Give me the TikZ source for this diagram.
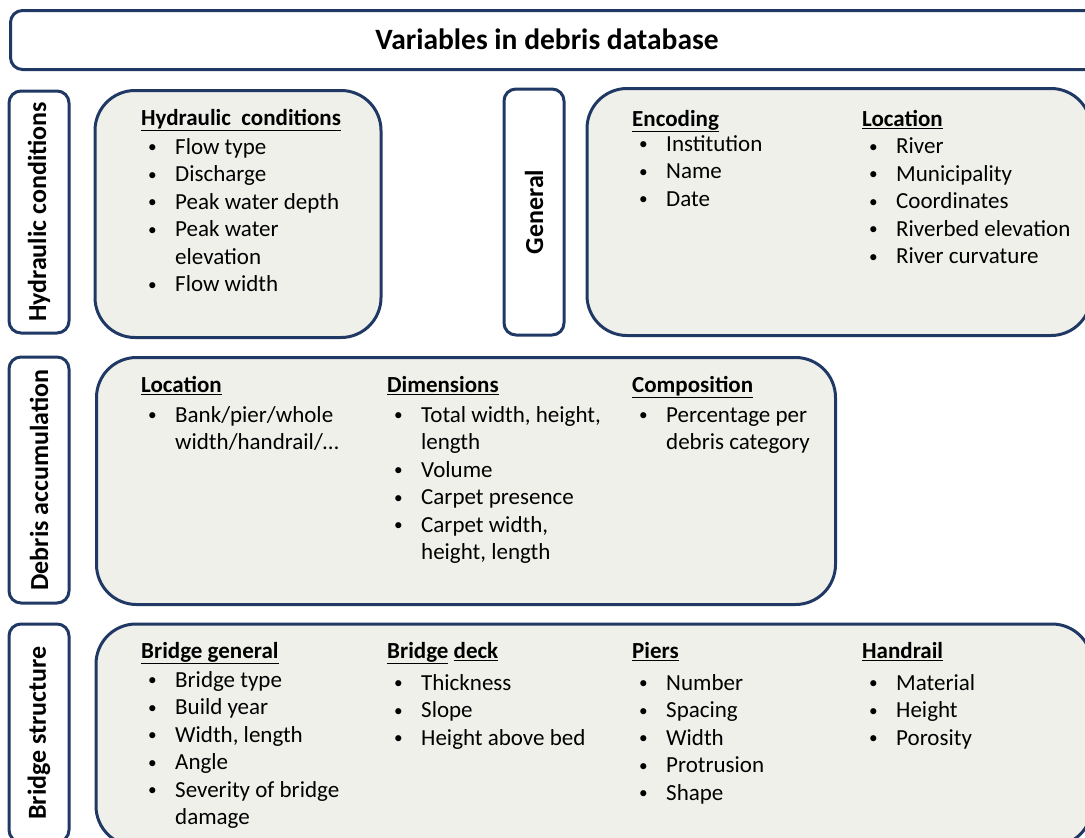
\documentclass[tikz,border=0pt]{standalone}
\usepackage{fontspec}
\setmainfont{Carlito}
\usetikzlibrary{positioning}

\definecolor{boxline}{HTML}{1F3864}
\definecolor{boxfill}{HTML}{F0F0EB}

\newcommand{\head}[1]{\underline{\textbf{#1}}}
\newcommand{\itm}[1]{\makebox[34pt][l]{\hspace{7pt}\raisebox{1.8pt}{\scalebox{0.75}{\textbullet}}}#1}
\newcommand{\cont}[1]{\hspace*{34pt}#1}

\begin{document}
\begin{tikzpicture}[x=1pt, y=-1pt,
    lblbox/.style={draw=boxline, line width=3pt, fill=white, rounded corners=12pt, inner sep=0pt,
        font=\fontsize{26}{30}\selectfont\bfseries},
    catbox/.style={draw=boxline, line width=3pt, fill=boxfill, rounded corners=40pt, inner sep=0pt},
    listtxt/.style={anchor=north west, align=left, inner sep=0pt, font=\fontsize{23}{27.5}\selectfont}
]
    \clip (0,0) rectangle (1085,838);

    % title bar
    \node[lblbox, minimum width=1100, minimum height=59, anchor=north west] (title) at (9,9) {};
    \node[font=\fontsize{29.5}{34}\selectfont\bfseries] (titletxt) at (547,39) {Variables in debris database};

    % category labels
    \node[lblbox, minimum width=60, minimum height=242] (hydlbl) at (39,212) {\rotatebox{90}{Hydraulic conditions}};
    \node[lblbox, minimum width=60, minimum height=246] (deblbl) at (39,480) {\rotatebox{90}{Debris accumulation}};
    \node[lblbox, minimum width=60, minimum height=218] (brlbl) at (39,733) {\rotatebox{90}{Bridge structure}};
    \node[lblbox, minimum width=60, minimum height=246] (genlbl) at (534,212) {\rotatebox{90}{General}};

    % category contents
    \node[catbox, minimum width=286, minimum height=247] (hydbox) at (238,214) {};
    \node[catbox, minimum width=504, minimum height=247] (genbox) at (839,212) {};
    \node[catbox, minimum width=739, minimum height=247] (debbox) at (466,481) {};
    \node[catbox, minimum width=996, minimum height=222] (brbox) at (594,735) {};

    % hydraulic conditions
    \node[listtxt] (hydlist) at (141,109) {\head{Hydraulic\ \ conditions}\\[1.5pt]
        \itm{Flow type}\\ \itm{Discharge}\\ \itm{Peak water depth}\\ \itm{Peak water}\\
        \cont{elevation}\\ \itm{Flow width}};

    % general
    \node[listtxt] (enclist) at (632,110) {\head{Encoding}\\[-2.5pt]
        \itm{Institution}\\ \itm{Name}\\ \itm{Date}};
    \node[listtxt] (loclist) at (862,110) {\head{Location}\\[0pt]
        \itm{River}\\ \itm{Municipality}\\ \itm{Coordinates}\\ \itm{Riverbed elevation}\\
        \itm{River curvature}};

    % debris accumulation
    \node[listtxt] (dloclist) at (141,376) {\head{Location}\\[2.5pt]
        \itm{Bank/pier/whole}\\ \cont{width/handrail/\dots}};
    \node[listtxt] (dimlist) at (387,376) {\head{Dimensions}\\[2.5pt]
        \itm{Total width, height,}\\ \cont{length}\\ \itm{Volume}\\ \itm{Carpet presence}\\
        \itm{Carpet width,}\\ \cont{height, length}};
    \node[listtxt] (complist) at (632,376) {\head{Composition}\\[2.5pt]
        \itm{Percentage per}\\ \cont{debris category}};

    % bridge structure
    \node[listtxt] (bgenlist) at (141,642) {\head{Bridge general}\\[1.5pt]
        \itm{Bridge type}\\ \itm{Build year}\\ \itm{Width, length}\\ \itm{Angle}\\
        \itm{Severity of bridge}\\ \cont{damage}};
    \node[listtxt] (decklist) at (387,642) {\head{Bridge}\ \head{deck}\\[4.5pt]
        \itm{Thickness}\\ \itm{Slope}\\ \itm{Height\ above bed}};
    \node[listtxt] (pierlist) at (632,642) {\head{Piers}\\[4.5pt]
        \itm{Number}\\ \itm{Spacing}\\ \itm{Width}\\ \itm{Protrusion}\\ \itm{Shape}};
    \node[listtxt] (raillist) at (862,642) {\head{Handrail}\\[4.5pt]
        \itm{Material}\\ \itm{Height}\\ \itm{Porosity}};
\end{tikzpicture}
\end{document}
